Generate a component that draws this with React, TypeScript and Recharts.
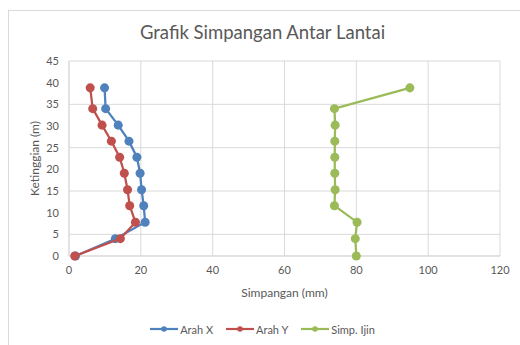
import React from "react";
import {
  ScatterChart,
  Scatter,
  XAxis,
  YAxis,
  ZAxis,
  CartesianGrid,
  Legend,
} from "recharts";

// storey heights (m)
const heights = [0, 4, 7.8, 11.6, 15.3, 19.1, 22.8, 26.5, 30.2, 34, 38.8];
// drift per direction (mm)
const arahX = [1.8, 12.9, 21.2, 20.8, 20.2, 19.8, 18.9, 16.7, 13.7, 10.2, 9.9];
const arahY = [1.6, 14.3, 18.5, 16.9, 16.3, 15.4, 14.1, 11.8, 9.2, 6.6, 5.9];
const simpIjin = [80, 79.7, 80.2, 73.9, 74.1, 74, 74, 74, 74.1, 73.9, 94.9];

const xTicks = [0, 20, 40, 60, 80, 100, 120];
const yTicks = [0, 5, 10, 15, 20, 25, 30, 35, 40, 45];

const seriesNames = ["Arah X", "Arah Y", "Simp. Ijin"];
const seriesColors = ["#4F81BD", "#C0504D", "#9BBB59"];

const toPoints = (vals: number[]) => vals.map((v, i) => ({ x: v, y: heights[i] }));

const FONT = "Lato, 'Open Sans', sans-serif";
const TXT = "#595959";

const LegendContent = () => (
  <div
    style={{
      display: "flex",
      justifyContent: "center",
      alignItems: "center",
      height: 20,
      paddingLeft: 9,
      fontFamily: FONT,
      fontSize: 11,
      color: TXT,
    }}
  >
    {seriesNames.map((name, i) => (
      <div key={name} style={{ display: "flex", alignItems: "center", marginRight: 13 }}>
        <svg width={28} height={10} style={{ marginRight: 2 }}>
          <line x1={0} y1={5} x2={28} y2={5} stroke={seriesColors[i]} strokeWidth={2.2} />
          <circle cx={14} cy={5} r={2.8} fill={seriesColors[i]} />
        </svg>
        <span>{name}</span>
      </div>
    ))}
  </div>
);

export default function App() {
  const seriesData = [arahX, arahY, simpIjin];
  return (
    <div
      style={{
        position: "fixed",
        left: 0,
        top: 0,
        width: 520,
        height: 345,
        overflow: "hidden",
        background: "#fff",
      }}
    >
      <div
        style={{
          position: "absolute",
          left: 8,
          top: 10,
          width: 540,
          height: 360,
          border: "1px solid #d9d9d9",
        }}
      />
      <div
        style={{
          position: "absolute",
          left: 0,
          width: 525,
          top: 21,
          textAlign: "center",
          fontFamily: FONT,
          fontSize: 18.5,
          color: TXT,
        }}
      >
        Grafik Simpangan Antar Lantai
      </div>
      <div style={{ position: "absolute", left: 0, top: 0 }}>
        <ScatterChart
          width={520}
          height={345}
          margin={{ top: 61, right: 20, bottom: 6, left: 29 }}
        >
          <CartesianGrid stroke="#d9d9d9" strokeWidth={1} />
          <XAxis
            type="number"
            dataKey="x"
            domain={[0, 120]}
            ticks={xTicks}
            height={63}
            axisLine={{ stroke: "#d9d9d9" }}
            tickLine={false}
            tickSize={0}
            tickMargin={10}
            tick={{ fill: TXT, fontSize: 11, fontFamily: FONT }}
            label={{
              value: "Simpangan (mm)",
              position: "insideBottom",
              offset: 22,
              style: { fill: TXT, fontSize: 12, fontFamily: FONT },
            }}
          />
          <YAxis
            type="number"
            dataKey="y"
            domain={[0, 45]}
            ticks={yTicks}
            width={40}
            axisLine={{ stroke: "#d9d9d9" }}
            tickLine={false}
            tickSize={0}
            tickMargin={10}
            tick={{ fill: TXT, fontSize: 11, fontFamily: FONT }}
            label={{
              value: "Ketinggian (m)",
              angle: -90,
              position: "insideLeft",
              offset: 6,
              style: { fill: TXT, fontSize: 12, fontFamily: FONT, textAnchor: "middle" },
            }}
          />
          <ZAxis range={[45, 45]} />
          <Legend verticalAlign="bottom" height={20} content={<LegendContent />} />
          {seriesData.map((vals, i) => (
            <Scatter
              key={seriesNames[i]}
              name={seriesNames[i]}
              data={toPoints(vals)}
              fill={seriesColors[i]}
              line={{ stroke: seriesColors[i], strokeWidth: 2.25 }}
              shape="circle"
              isAnimationActive={false}
            />
          ))}
        </ScatterChart>
      </div>
    </div>
  );
}
